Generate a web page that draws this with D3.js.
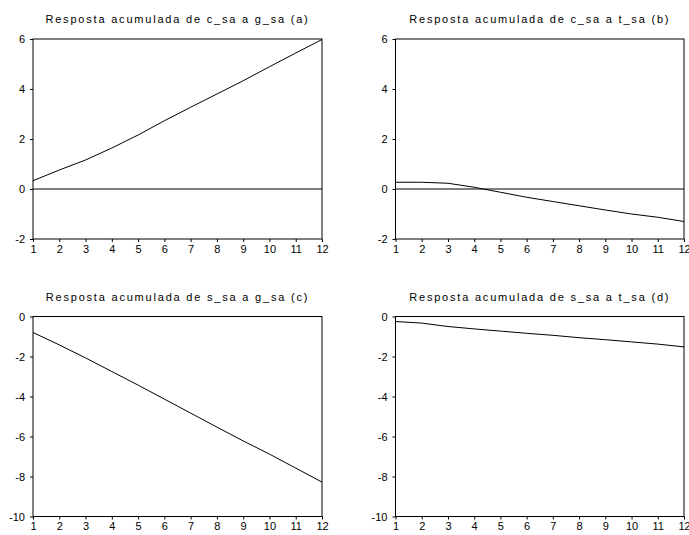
<!DOCTYPE html>
<html>
<head>
<meta charset="utf-8">
<script src="https://cdn.jsdelivr.net/npm/d3@7"></script>
<style>
  body { margin: 0; background: #fff; }
  text { font-family: "Liberation Sans", Arial, sans-serif; fill: #000; }
</style>
</head>
<body>
<svg id="chart"></svg>
<script>
const width = 689;
const height = 535;

const periods = [1, 2, 3, 4, 5, 6, 7, 8, 9, 10, 11, 12];

const titles = [
    "Resposta acumulada de c_sa a g_sa (a)",
    "Resposta acumulada de c_sa a t_sa (b)",
    "Resposta acumulada de s_sa a g_sa (c)",
    "Resposta acumulada de s_sa a  t_sa (d)"
];

const c_g = [0.33, 0.76, 1.16, 1.64, 2.16, 2.73, 3.27, 3.80, 4.33, 4.89, 5.44, 5.98];
const c_t = [0.27, 0.27, 0.23, 0.07, -0.13, -0.33, -0.50, -0.67, -0.84, -1.00, -1.13, -1.30];
const s_g = [-0.80, -1.42, -2.07, -2.75, -3.43, -4.13, -4.83, -5.53, -6.22, -6.88, -7.58, -8.28];
const s_t = [-0.25, -0.33, -0.50, -0.62, -0.73, -0.84, -0.94, -1.06, -1.16, -1.27, -1.38, -1.52];

const seriesList = [c_g, c_t, s_g, s_t];
const yDomains = [[-2, 6], [-2, 6], [-10, 0], [-10, 0]];
const yTicks = [[-2, 0, 2, 4, 6], [-2, 0, 2, 4, 6], [-10, -8, -6, -4, -2, 0], [-10, -8, -6, -4, -2, 0]];

// panel frames: left, top, right, bottom, title baseline
const panels = [
    {x0: 33, y0: 39, x1: 322, y1: 239, ty: 23},
    {x0: 395.5, y0: 39, x1: 684, y1: 239, ty: 23},
    {x0: 33, y0: 316.5, x1: 322, y1: 516.5, ty: 301},
    {x0: 395.5, y0: 316.5, x1: 684, y1: 516.5, ty: 301}
];

const fmt = d => String(d); // plain hyphen minus, like the original

const svg = d3.select("#chart")
    .attr("width", width)
    .attr("height", height);

panels.forEach((p, i) => {
    const g = svg.append("g");

    const x = d3.scaleLinear().domain([1, 12]).range([p.x0, p.x1]);
    const y = d3.scaleLinear().domain(yDomains[i]).range([p.y1, p.y0]);

    g.append("text")
        .attr("x", (p.x0 + p.x1) / 2)
        .attr("y", p.ty)
        .attr("text-anchor", "middle")
        .attr("font-size", "11px")
        .attr("letter-spacing", "1.8px")
        .attr("fill", "#222")
        .text(titles[i]);

    const xAxis = g.append("g")
        .attr("transform", `translate(0,${p.y1})`)
        .call(d3.axisBottom(x).tickValues(periods).tickSize(3).tickPadding(3).tickFormat(fmt));

    const yAxis = g.append("g")
        .attr("transform", `translate(${p.x0},0)`)
        .call(d3.axisLeft(y).tickValues(yTicks[i]).tickSize(3).tickPadding(5).tickFormat(fmt));

    [xAxis, yAxis].forEach(a => {
        a.select(".domain").remove();
        a.selectAll("text").attr("font-size", "11px").attr("fill", "#222")
            .attr("font-family", "'Liberation Sans', Arial, sans-serif");
        a.selectAll("line").attr("stroke", "#000");
    });

    g.append("rect")
        .attr("x", p.x0)
        .attr("y", p.y0)
        .attr("width", p.x1 - p.x0)
        .attr("height", p.y1 - p.y0)
        .attr("fill", "none")
        .attr("stroke", "#000")
        .attr("stroke-width", 1);

    if (yDomains[i][0] < 0 && yDomains[i][1] > 0) {
        g.append("line")
            .attr("x1", p.x0)
            .attr("x2", p.x1)
            .attr("y1", y(0))
            .attr("y2", y(0))
            .attr("stroke", "#000")
            .attr("stroke-width", 1);
    }

    const line = d3.line()
        .x((d, j) => x(periods[j]))
        .y(d => y(d));

    g.append("path")
        .datum(seriesList[i])
        .attr("d", line)
        .attr("fill", "none")
        .attr("stroke", "#000")
        .attr("stroke-width", 1);
});
</script>
</body>
</html>
